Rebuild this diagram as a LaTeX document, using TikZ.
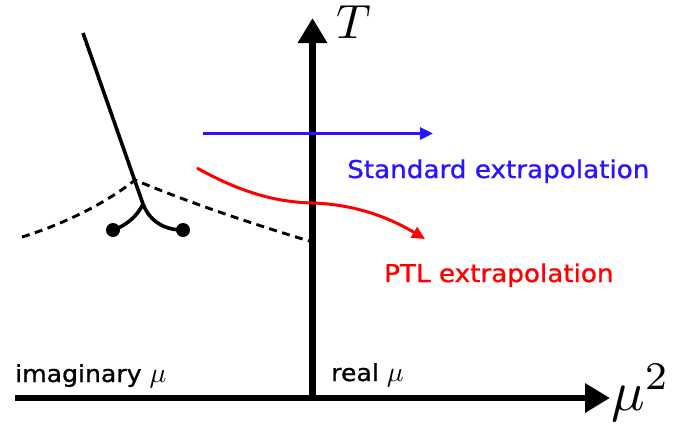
\documentclass[tikz,border=0pt]{standalone}
\usepackage{fontspec}
\setsansfont{DejaVu Sans}[FakeStretch=1.07,FakeBold=0.9]
\usetikzlibrary{arrows.meta}
\definecolor{stdblue}{RGB}{40,20,255}
\begin{document}
\begin{tikzpicture}[x=1pt,y=-1pt,
  axis/.style={line width=6.5pt,-{Triangle[length=25pt,width=28pt]}},
  extra/.style={line width=3pt,-{Triangle[length=13pt,width=12pt]}},
  phase/.style={line width=3.6pt},
  crit/.style={line width=2.9pt,dash pattern=on 8pt off 5.5pt},
  lbl/.style={font=\sffamily\fontsize{24.5}{28}\selectfont,inner sep=0pt,anchor=base west},
  albl/.style={font=\sffamily\fontsize{23.5}{28}\selectfont,inner sep=0pt,anchor=base west},
  dot/.style={circle,fill=black,inner sep=0pt,minimum size=14pt}]
\useasboundingbox (0,0) rectangle (687,423);
% axes
\coordinate (xs) at (15,398);
\coordinate (xe) at (610,398);
\coordinate (ys) at (312.5,398);
\coordinate (ye) at (312.5,18);
\draw[axis] (xs) -- (xe);
\draw[axis] (ys) -- (ye);
\node[inner sep=0pt,anchor=base west] (T) at (336,38) {\scalebox{4.8}{$T$}};
\node[inner sep=0pt,anchor=base west] (mu2) at (611,410) {\scalebox{5.6}{$\mu^2$}};
% labels on axis
\node[albl] (im) at (15,382) {imaginary \scalebox{2.8}{\normalsize$\mu$}};
\node[albl] (re) at (331,381) {real \scalebox{2.8}{\normalsize$\mu$}};
% blue
\coordinate (bs) at (203,133.5);
\coordinate (be) at (433,133.5);
\draw[extra,draw=stdblue] (bs) -- (be);
\node[lbl,text=stdblue] (std) at (347,178) {Standard extrapolation};
% red
\coordinate (rs) at (197,168);
\coordinate (rm) at (312,203);
\coordinate (re2) at (425,239);
\draw[extra,draw=red] (rs) .. controls (240,192) and (275,202) .. (rm)
   .. controls (350,204) and (385,215) .. (re2);
\node[lbl,text=red] (ptl) at (384,282) {PTL extrapolation};
% phase lines
\coordinate (top) at (83,33);
\coordinate (jn) at (143,204);
\node[dot] (d1) at (113,230) {};
\node[dot] (d2) at (183,230) {};
\draw[phase] (top) -- (jn);
\draw[phase] (jn) .. controls (137,217) and (125,226) .. (d1.center);
\draw[phase] (jn) .. controls (150,222) and (165,230) .. (d2.center);
% dashed
\coordinate (dl) at (22,237);
\coordinate (dp) at (135,180);
\coordinate (dr) at (309,241);
\draw[crit] (dl) .. controls (70,222) and (110,200) .. (dp) .. controls (190,203) and (250,223) .. (dr);
\end{tikzpicture}
\end{document}
